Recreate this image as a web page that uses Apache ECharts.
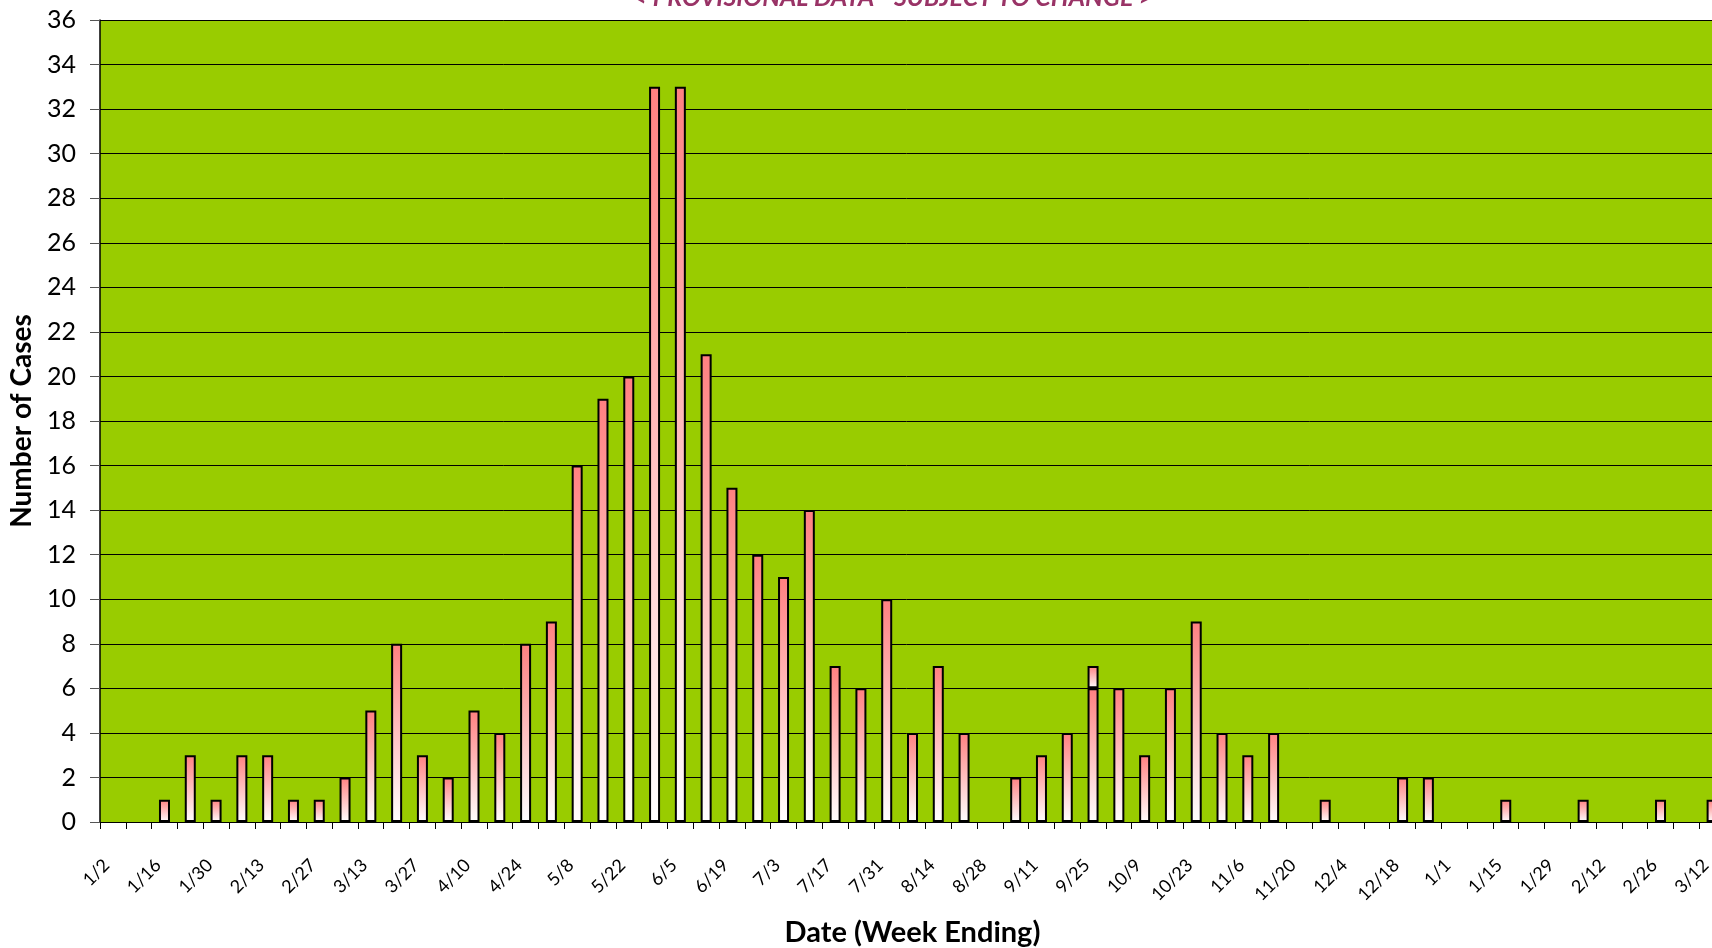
<!DOCTYPE html>
<html>
<head>
<meta charset="utf-8">
<title>Cases by week</title>
<script src="https://cdn.jsdelivr.net/npm/echarts@6/dist/echarts.min.js"></script>
<style>
  html, body { margin: 0; padding: 0; background: #fff; }
  #chart { width: 1712px; height: 948px; }
</style>
</head>
<body>
<div id="chart"></div>
<script>
// week ending dates, 1/2 (2010) through 3/12 (2011)
var weeks = ['1/2','1/9','1/16','1/23','1/30','2/6','2/13','2/20','2/27','3/6',
  '3/13','3/20','3/27','4/3','4/10','4/17','4/24','5/1','5/8','5/15',
  '5/22','5/29','6/5','6/12','6/19','6/26','7/3','7/10','7/17','7/24',
  '7/31','8/7','8/14','8/21','8/28','9/4','9/11','9/18','9/25','10/2',
  '10/9','10/16','10/23','10/30','11/6','11/13','11/20','11/27','12/4','12/11',
  '12/18','12/25','1/1','1/8','1/15','1/22','1/29','2/5','2/12','2/19',
  '2/26','3/5','3/12'];

// cases per week (main series)
var cases = [0,0,1,3,1,3,3,1,1,2,
  5,8,3,2,5,4,8,9,16,19,
  20,33,33,21,15,12,11,14,7,6,
  10,4,7,4,0,2,3,4,6,6,
  3,6,9,4,3,4,0,1,0,0,
  2,2,0,0,1,0,0,1,0,0,
  1,0,1];

// extra cases stacked on top (only one week)
var casesExtra = [0,0,0,0,0,0,0,0,0,0,
  0,0,0,0,0,0,0,0,0,0,
  0,0,0,0,0,0,0,0,0,0,
  0,0,0,0,0,0,0,0,1,0,
  0,0,0,0,0,0,0,0,0,0,
  0,0,0,0,0,0,0,0,0,0,
  0,0,0];

var yTicks = { min: 0, max: 36, step: 2 };

var FONT = 'Lato, "Open Sans", sans-serif';

function barFill() {
  return new echarts.graphic.LinearGradient(0, 0, 0, 1, [
    { offset: 0, color: '#ff8080' },
    { offset: 1, color: '#ffffff' }
  ]);
}

function noZero(arr) {
  return arr.map(function (v) { return v === 0 ? null : v; });
}

var barStyle = {
  type: 'bar',
  stack: 'cases',
  barWidth: 11,
  silent: true
};

var myChart = echarts.init(document.getElementById('chart'));
var option = {
  animation: false,
  textStyle: { fontFamily: FONT },
  grid: {
    left: 100,
    top: 20,
    right: -13,
    bottom: 126,
    outerBoundsMode: 'none',
    containLabel: false,
    show: true,
    backgroundColor: '#99cc00',
    borderWidth: 0
  },
  graphic: [{
    type: 'text',
    x: 893,
    y: 10,
    style: {
      text: '< PROVISIONAL DATA - SUBJECT TO CHANGE >',
      font: 'italic bold 25px ' + FONT,
      fill: '#993366',
      align: 'center',
      verticalAlign: 'bottom'
    }
  }],
  xAxis: {
    type: 'category',
    data: weeks,
    boundaryGap: true,
    name: 'Date (Week Ending)',
    nameLocation: 'middle',
    nameGap: 96,
    nameTextStyle: { fontSize: 29, fontWeight: 'bold', color: '#000', fontFamily: FONT },
    axisLine: { lineStyle: { color: '#000', width: 1 } },
    axisTick: { show: true, interval: 0, length: 7, lineStyle: { color: '#000' } },
    axisLabel: {
      interval: 1,
      rotate: 45,
      margin: 34,
      padding: [0, 9, 0, 0],
      fontSize: 18,
      color: '#000',
      fontFamily: FONT
    },
    splitLine: { show: false }
  },
  yAxis: {
    type: 'value',
    min: yTicks.min,
    max: yTicks.max,
    interval: yTicks.step,
    name: 'Number of Cases',
    nameLocation: 'middle',
    nameGap: 62,
    nameTextStyle: { fontSize: 28, fontWeight: 'bold', color: '#000', fontFamily: FONT },
    axisLine: { show: true, lineStyle: { color: '#000', width: 1.5 } },
    axisTick: { show: true, length: 10, lineStyle: { color: '#555' } },
    axisLabel: { fontSize: 25, color: '#000', margin: 24, fontFamily: FONT },
    splitLine: { show: true, lineStyle: { color: '#000', width: 1 } }
  },
  series: [
    Object.assign({
      name: 'Cases',
      data: noZero(cases),
      itemStyle: { color: barFill(), borderColor: '#000', borderWidth: 2 }
    }, barStyle),
    Object.assign({
      name: 'Cases (extra)',
      data: noZero(casesExtra),
      itemStyle: { color: barFill(), borderColor: '#000', borderWidth: 2 }
    }, barStyle)
  ]
};
myChart.setOption(option);
</script>
</body>
</html>
